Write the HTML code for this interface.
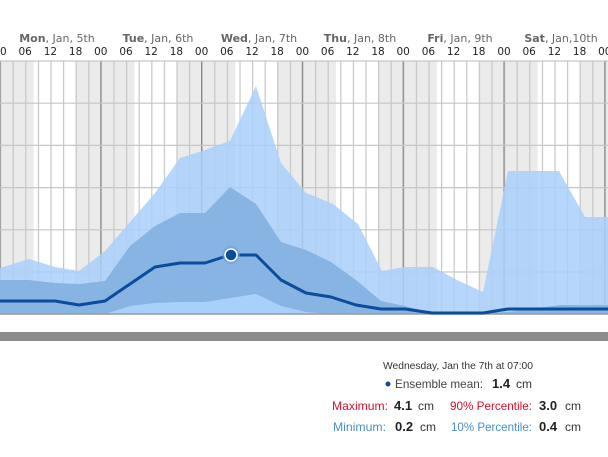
<!DOCTYPE html>
<html><head><meta charset="utf-8"><style>
body{margin:0;background:#fff;width:608px;height:452px;overflow:hidden}
</style></head><body>
<svg width="608" height="452" xmlns="http://www.w3.org/2000/svg" font-family="DejaVu Sans, Liberation Sans, sans-serif">
<defs>
<pattern id="vg" x="0" y="0" width="12.6" height="300" patternUnits="userSpaceOnUse">
<rect x="0" y="0" width="1.2" height="300" fill="#c6c6c6"/>
</pattern>
</defs>
<rect x="0" y="61" width="33.6" height="253" fill="#ebebeb"/>
<rect x="75.6" y="61" width="58.8" height="253" fill="#ebebeb"/>
<rect x="176.4" y="61" width="58.8" height="253" fill="#ebebeb"/>
<rect x="277.2" y="61" width="58.8" height="253" fill="#ebebeb"/>
<rect x="378" y="61" width="58.8" height="253" fill="#ebebeb"/>
<rect x="478.8" y="61" width="58.8" height="253" fill="#ebebeb"/>
<rect x="579.6" y="61" width="30" height="253" fill="#ebebeb"/>
<rect x="-0.6" y="61" width="610" height="253" fill="url(#vg)"/>
<g stroke="#8a8a8a" stroke-width="1.2">
<line x1="0" y1="61" x2="0" y2="314"/><line x1="100.8" y1="61" x2="100.8" y2="314"/><line x1="201.6" y1="61" x2="201.6" y2="314"/><line x1="302.4" y1="61" x2="302.4" y2="314"/><line x1="403.2" y1="61" x2="403.2" y2="314"/><line x1="504" y1="61" x2="504" y2="314"/><line x1="604.8" y1="61" x2="604.8" y2="314"/>
</g>
<g stroke="#c6c6c6" stroke-width="1.2">
<line x1="0" y1="61" x2="608" y2="61"/><line x1="0" y1="103.2" x2="608" y2="103.2"/><line x1="0" y1="145.4" x2="608" y2="145.4"/><line x1="0" y1="187.6" x2="608" y2="187.6"/><line x1="0" y1="229.8" x2="608" y2="229.8"/><line x1="0" y1="272" x2="608" y2="272"/>
</g>
<g font-size="10.5" fill="#222" text-anchor="middle">
<text x="0" y="55">00</text><text x="25.2" y="55">06</text><text x="50.4" y="55">12</text><text x="75.6" y="55">18</text>
<text x="100.8" y="55">00</text><text x="126" y="55">06</text><text x="151.2" y="55">12</text><text x="176.4" y="55">18</text>
<text x="201.6" y="55">00</text><text x="226.8" y="55">06</text><text x="252" y="55">12</text><text x="277.2" y="55">18</text>
<text x="302.4" y="55">00</text><text x="327.6" y="55">06</text><text x="352.8" y="55">12</text><text x="378" y="55">18</text>
<text x="403.2" y="55">00</text><text x="428.4" y="55">06</text><text x="453.6" y="55">12</text><text x="478.8" y="55">18</text>
<text x="504" y="55">00</text><text x="529.2" y="55">06</text><text x="554.4" y="55">12</text><text x="579.6" y="55">18</text>
<text x="604.8" y="55">00</text>
</g>
<g font-size="11" fill="#666" text-anchor="middle">
<text x="57" y="42"><tspan font-weight="bold">Mon</tspan>, Jan, 5th</text>
<text x="158" y="42"><tspan font-weight="bold">Tue</tspan>, Jan, 6th</text>
<text x="259" y="42"><tspan font-weight="bold">Wed</tspan>, Jan, 7th</text>
<text x="360" y="42"><tspan font-weight="bold">Thu</tspan>, Jan, 8th</text>
<text x="460" y="42"><tspan font-weight="bold">Fri</tspan>, Jan, 9th</text>
<text x="561" y="42"><tspan font-weight="bold">Sat</tspan>, Jan,10th</text>
</g>
<polygon fill="#a9d0fa" fill-opacity="0.85" points="0,268 29,259 55,267 79,271 105,251 130,222 155,193 180,158 205,150 230,141 256,86 281,163 306,193 314,196 333,204 358,224 382,271 404,267 433,267 457,280 483,292 508,171 559,171 585,217 608,217 608,314 0,314"/>
<polygon fill="#86b2e3" fill-opacity="0.95" points="0,280 29,280 55,283 79,284 105,281 130,246 155,226 180,213 205,213 230,187 256,204 281,242 306,250 331,262 356,280 381,301 405,306 432,313 457,313 483,313 508,312 560,305 608,305 608,314 0,314"/>
<polygon fill="#a9d0fa" points="105,314 130,306 155,303 180,302 205,302 230,298 256,294 281,306 306,312 331,314"/>
<line x1="0" y1="314" x2="608" y2="314" stroke="#999" stroke-width="1.5"/>
<polyline fill="none" stroke="#0b4c9c" stroke-width="3" stroke-linejoin="round" points="0,301 29,301 55,301 79,305 105,301 130,284 155,267 180,263 205,263 230,255 256,255 281,280 306,293 331,297 356,305 381,309 405,309 432,313 457,313 483,313 508,309 533,309 608,309"/>
<circle cx="231" cy="255" r="9" fill="#6f9fd8" fill-opacity="0.6"/>
<circle cx="231" cy="255" r="6" fill="#0b4c9c" stroke="#fff" stroke-width="1.5"/>
<rect x="0" y="332" width="608" height="9" fill="#8c8c8c"/>
<g font-family="Liberation Sans, sans-serif">
<text x="383" y="369" font-size="10" fill="#333" textLength="150" lengthAdjust="spacingAndGlyphs">Wednesday, Jan the 7th at 07:00</text>
<circle cx="388" cy="384" r="2.5" fill="#0b4c9c"/>
<text x="395" y="388" font-size="12" fill="#444" textLength="88" lengthAdjust="spacingAndGlyphs">Ensemble mean:</text>
<text x="492" y="388" font-size="13" font-weight="bold" fill="#222">1.4</text><text x="516" y="388" font-size="12" fill="#333">cm</text>
<text x="332" y="410" font-size="12" fill="#d8102a" textLength="56" lengthAdjust="spacingAndGlyphs">Maximum:</text>
<text x="394" y="410" font-size="13" font-weight="bold" fill="#222">4.1</text><text x="418" y="410" font-size="12" fill="#333">cm</text>
<text x="450" y="410" font-size="12" fill="#d8102a" textLength="82" lengthAdjust="spacingAndGlyphs">90% Percentile:</text>
<text x="539" y="410" font-size="13" font-weight="bold" fill="#222">3.0</text><text x="565" y="410" font-size="12" fill="#333">cm</text>
<text x="333" y="431" font-size="12" fill="#4a8fc8" textLength="53" lengthAdjust="spacingAndGlyphs">Minimum:</text>
<text x="395" y="431" font-size="13" font-weight="bold" fill="#222">0.2</text><text x="420" y="431" font-size="12" fill="#333">cm</text>
<text x="451" y="431" font-size="12" fill="#4a8fc8" textLength="81" lengthAdjust="spacingAndGlyphs">10% Percentile:</text>
<text x="539" y="431" font-size="13" font-weight="bold" fill="#222">0.4</text><text x="565" y="431" font-size="12" fill="#333">cm</text>
</g>
</svg>
</body></html>
